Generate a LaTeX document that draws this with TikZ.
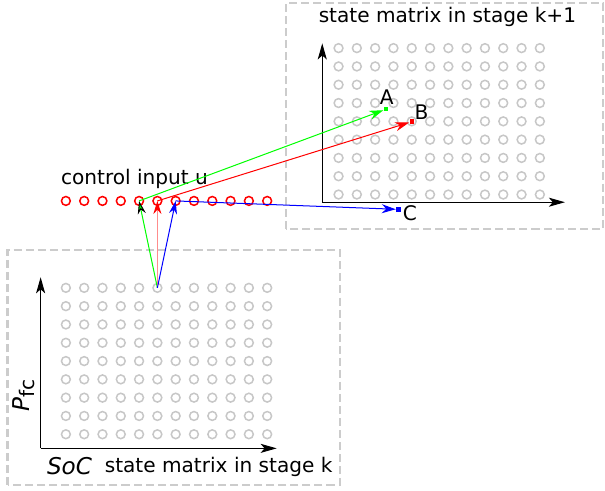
\documentclass[tikz,border=0pt]{standalone}
\usepackage{fontspec}
\setmainfont{DejaVu Sans}
\usetikzlibrary{arrows.meta}

\begin{document}
\begin{tikzpicture}[x=0.32cm, y=0.32cm,
    frame/.style={draw=black!20, line width=1pt, dash pattern=on 4pt off 2pt},
    state/.style={circle, draw=black!22, line width=0.75pt, minimum size=4.4pt, inner sep=0pt},
    input/.style={circle, draw=red, line width=0.75pt, minimum size=4.4pt, inner sep=0pt},
    axis/.style={-{Stealth[length=8pt,width=4.5pt,inset=2pt]}, line width=0.5pt},
    endpt/.style={rectangle, fill, minimum size=2.2pt, inner sep=0pt},
    link/.style={line width=0.5pt}]
    \useasboundingbox (0,0) rectangle (33.06,26.83);

    % Draw the dashed frames
    \draw[frame] (0.41,0.33) rectangle (18.58,13.17);
    \draw[frame] (15.63,14.33) rectangle (32.95,26.67);

    % Axes of the two state matrices
    \coordinate (o1) at (2.22,2.33);
    \coordinate (o2) at (17.61,15.78);
    \draw[axis] (o1) -- (2.22,11.68);
    \draw[axis] (o1) -- (15.12,2.33);
    \draw[axis] (o2) -- (17.61,24.46);
    \draw[axis] (o2) -- (30.87,15.78);

    % State points in stage k and stage k+1
    \foreach \i in {0,...,11}
      \foreach \j in {0,...,8} {
        \node[state] (b-\i-\j) at (3.6+\i, 3.1+\j) {};
        \node[state] (t-\i-\j) at (18.5+\i, 16.2+\j) {};
      }

    % Control inputs
    \foreach \i in {0,...,11}
      \node[input] (u-\i) at (3.6+\i, 15.85) {};

    % Labels
    \node at (7.35,17.05) {control input u};
    \node at (24.45,25.9) {state matrix in stage k+1};
    \node at (11.95,1.33) {state matrix in stage k};
    \node at (3.8,1.36) {\fontsize{11.5}{12}\selectfont\textit{SoC}};
    \node[rotate=90] at (1.3,5.2) {\fontsize{11.5}{12}\selectfont\textit{P}\raisebox{-0.45ex}{\fontsize{10}{10}\selectfont fc}};

    % End points in stage k+1
    \node[endpt, green] (A) at (21.09,20.86) {};
    \node[endpt, red] (B) at (22.5,20.18) {};
    \node[endpt, blue] (C) at (21.77,15.39) {};
    \node at (21.13,21.5) {A};
    \node at (23.04,20.7) {B};
    \node at (22.4,15.2) {C};

    % From the state to the control inputs
    \draw[link, green, -{Stealth[length=6.5pt,width=4pt,color=black,fill=green]}] (b-5-8.center) -- (u-4.center);
    \draw[link, red!45, -{Stealth[length=6.5pt,width=4pt,color=red]}] (b-5-8.center) -- (u-5.center);
    \draw[link, blue, -{Stealth[length=6.5pt,width=4pt]}] (b-5-8.center) -- (u-6.center);

    % From the control inputs to the next state
    \draw[link, green, -{Stealth[length=7pt,width=4.5pt]}] (u-4.center) -- (A);
    \draw[link, red, -{Stealth[length=7pt,width=4.5pt]}] (u-5.center) -- (B);
    \draw[link, blue, -{Stealth[length=7pt,width=4.5pt]}] (u-6.center) -- (C);

\end{tikzpicture}
\end{document}
